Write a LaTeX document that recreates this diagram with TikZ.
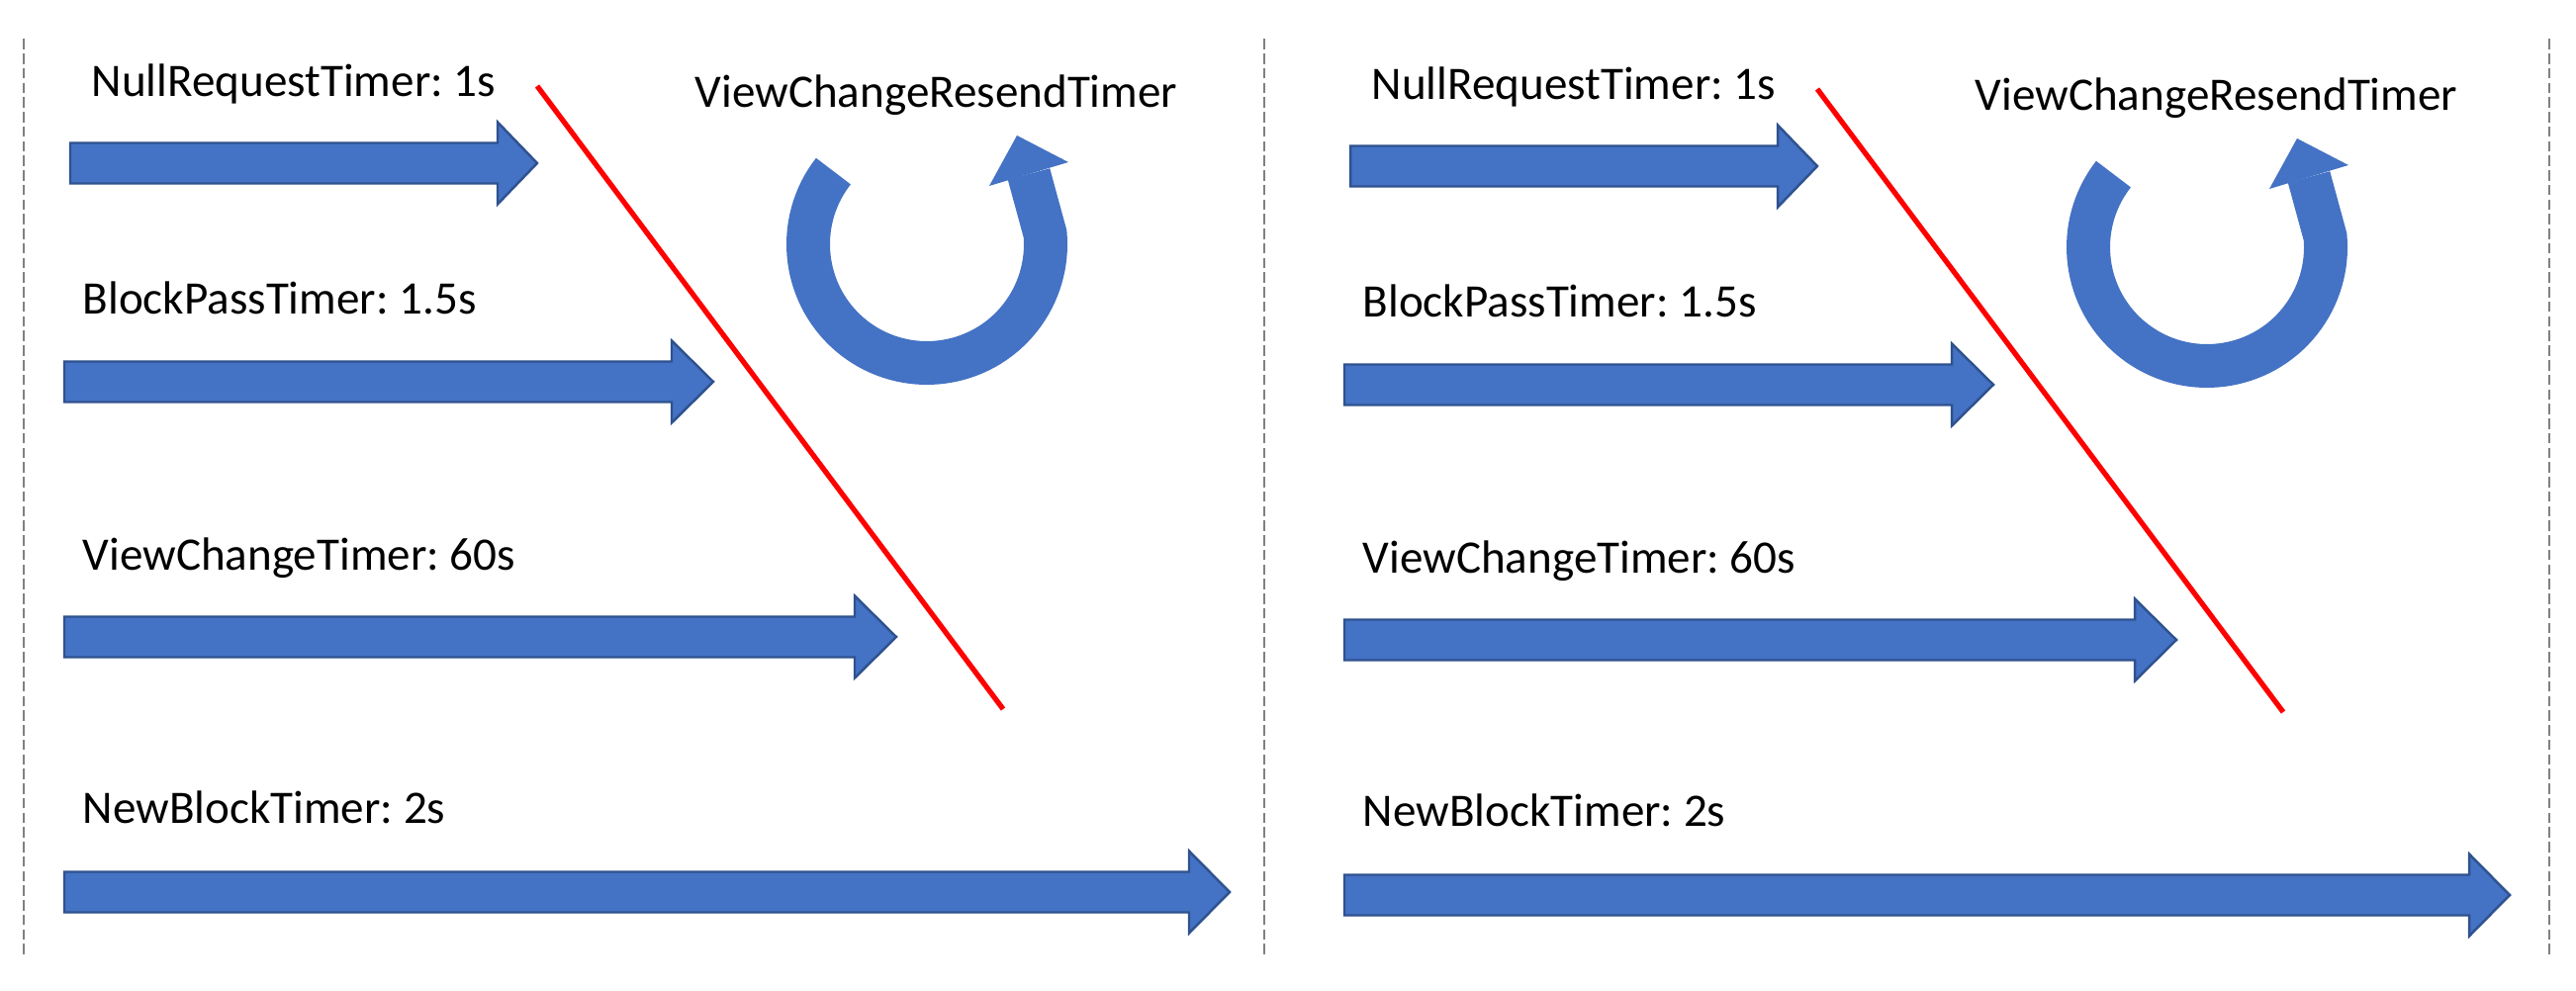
\documentclass[tikz,border=0pt]{standalone}
\usepackage{fontspec}
\setmainfont{Carlito}
\usepackage{tikz}

\definecolor{arrowblue}{HTML}{4472C4}
\definecolor{arrowedge}{HTML}{2F528F}
\definecolor{sepgray}{HTML}{808080}

% block arrow: tail x, head base x, tip x, middle y
\newcommand{\timerarrow}[4]{%
  \draw[timer] (#1,#4-0.205) -- (#2,#4-0.205) -- (#2,#4-0.415) -- (#3,#4)
    -- (#2,#4+0.415) -- (#2,#4+0.205) -- (#1,#4+0.205) -- cycle;}

\begin{document}
\frenchspacing
\begin{tikzpicture}[timer/.style = {draw=arrowedge, fill=arrowblue, line width=0.7pt},
  timerlabel/.style = {anchor=base west, inner sep=0pt, font=\fontsize{13.4pt}{16pt}\selectfont},
  deadline/.style = {draw=red, line width=1.5pt},
  resend/.style = {draw=arrowblue, line width=0.44cm},
  panelsep/.style = {draw=sepgray, line width=0.6pt, dash pattern=on 3pt off 1.2pt}]
\useasboundingbox (0,0) rectangle (26.04,10.02);

% separators
\draw[panelsep] (0.24,0.37) -- (0.24,9.66);
\draw[panelsep] (12.78,0.37) -- (12.78,9.66);
\draw[panelsep] (25.77,0.37) -- (25.77,9.66);

\foreach \p/\dx/\dy in {a/0/0, b/12.94/-0.03} {
\begin{scope}[shift={(\dx,\dy)}]
  \node[timerlabel] (nullreq-\p) at (0.92,9.04) {NullRequestTimer: 1s};
  \node[timerlabel] (blockpass-\p) at (0.83,6.84) {BlockPassTimer: 1.5s};
  \node[timerlabel] (viewchange-\p) at (0.83,4.25) {ViewChangeTimer: 60s};
  \node[timerlabel] (newblock-\p) at (0.83,1.69) {NewBlockTimer: 2s};
  \node[timerlabel] (resendlabel-\p) at (7.02,8.93) {ViewChangeResendTimer};
  \timerarrow{0.71}{5.03}{5.43}{8.37}
  \timerarrow{0.65}{6.79}{7.21}{6.16}
  \timerarrow{0.65}{8.64}{9.06}{3.58}
  \timerarrow{0.65}{12.02}{12.43}{1.00}
  \draw[deadline] (5.43,9.15) -- (10.14,2.85);
  % resend loop
  \coordinate (ring-\p) at (9.37,7.55);
  \draw[resend] ([shift={(142:1.2)}]ring-\p) arc[start angle=142, end angle=365, radius=1.2] -- (10.40,8.26);
  \fill[arrowblue] (10.00,8.14) -- (10.28,8.65) -- (10.80,8.38) -- cycle;
\end{scope}}
\end{tikzpicture}
\end{document}
